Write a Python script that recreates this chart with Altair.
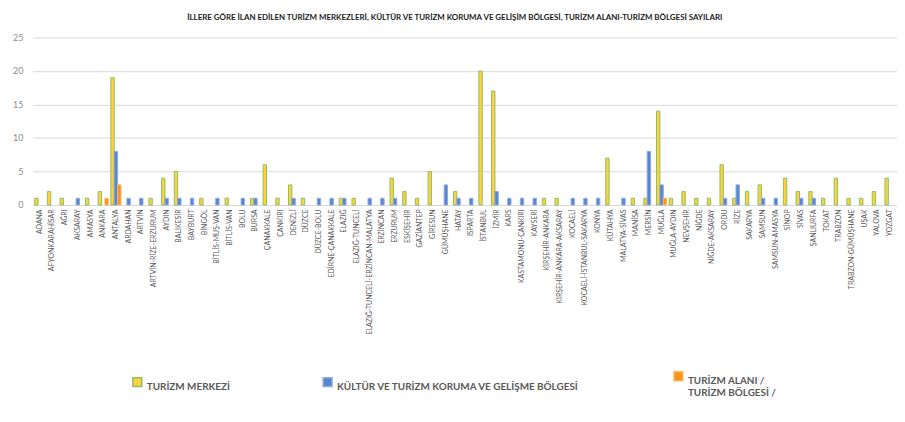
import altair as alt
import pandas as pd

categories = [
    "ADANA", "AFYONKARAHİSAR", "AĞRI", "AKSARAY", "AMASYA", "ANKARA", "ANTALYA",
    "ARDAHAN", "ARTVİN", "ARTVİN-RİZE-ERZURUM", "AYDIN", "BALIKESİR", "BAYBURT",
    "BİNGÖL", "BİTLİS-MUŞ-VAN", "BİTLİS-VAN", "BOLU", "BURSA", "ÇANAKKALE",
    "ÇANKIRI", "DENİZLİ", "DÜZCE", "DÜZCE-BOLU", "EDİRNE-ÇANAKKALE", "ELAZIĞ",
    "ELAZIĞ-TUNCELİ", "ELAZIĞ-TUNCELİ-ERZİNCAN-MALATYA", "ERZİNCAN", "ERZURUM",
    "ESKİŞEHİR", "GAZİANTEP", "GİRESUN", "GÜMÜŞHANE", "HATAY", "ISPARTA",
    "İSTANBUL", "İZMİR", "KARS", "KASTAMONU-ÇANKIRI", "KAYSERİ",
    "KIRŞEHİR-ANKARA", "KIRŞEHİR-ANKARA-AKSARAY", "KOCAELİ",
    "KOCAELİ-İSTANBUL-SAKARYA", "KONYA", "KÜTAHYA", "MALATYA-SİVAS", "MANİSA",
    "MERSİN", "MUĞLA", "MUĞLA-AYDIN", "NEVŞEHİR", "NİĞDE", "NİĞDE-AKSARAY",
    "ORDU", "RİZE", "SAKARYA", "SAMSUN", "SAMSUN-AMASYA", "SİNOP", "SİVAS",
    "ŞANLIURFA", "TOKAT", "TRABZON", "TRABZON-GÜMÜŞHANE", "UŞAK", "YALOVA",
    "YOZGAT",
]

turizm_merkezi = [
    1, 2, 1, 0, 1, 2, 19,
    0, 0, 1, 4, 5, 0,
    1, 0, 1, 0, 1, 6,
    1, 3, 1, 0, 0, 1,
    1, 0, 0, 4,
    2, 1, 5, 0, 2, 0,
    20, 17, 0, 0, 0,
    1, 1, 0,
    0, 0, 7, 0, 1,
    1, 14, 1, 2, 1, 1,
    6, 1, 2, 3, 0, 4, 2,
    2, 1, 4, 1, 1, 2,
    4,
]

kultur_turizm = [
    0, 0, 0, 1, 0, 0, 8,
    1, 1, 0, 1, 1, 1,
    0, 1, 0, 1, 1, 0,
    0, 1, 0, 1, 1, 1,
    0, 1, 1, 1,
    0, 0, 0, 3, 1, 1,
    0, 2, 1, 1, 1,
    0, 0, 1,
    1, 1, 0, 1, 0,
    8, 3, 0, 0, 0, 0,
    1, 3, 0, 1, 1, 0, 1,
    1, 0, 0, 0, 0, 0,
    0,
]

turizm_alani = [
    0, 0, 0, 0, 0, 1, 3,
    0, 0, 0, 0, 0, 0,
    0, 0, 0, 0, 0, 0,
    0, 0, 0, 0, 0, 0,
    0, 0, 0, 0,
    0, 0, 0, 0, 0, 0,
    0, 0, 0, 0, 0,
    0, 0, 0,
    0, 0, 0, 0, 0,
    0, 1, 0, 0, 0, 0,
    0, 0, 0, 0, 0, 0, 0,
    0, 0, 0, 0, 0, 0,
    0,
]

series_names = [
    "TURİZM MERKEZİ",
    "KÜLTÜR VE TURİZM KORUMA VE  GELİŞME BÖLGESİ",
    "TURİZM ALANI /|TURİZM BÖLGESİ /",
]
fill_colors = ["#FFD040", "#5585D3", "#F7941D"]
stroke_colors = ["#8CC063", "#8EAADB", "#FFB55A"]

rows = []
for series, values in zip(series_names, [turizm_merkezi, kultur_turizm, turizm_alani]):
    for cat, v in zip(categories, values):
        if v > 0:
            rows.append({"il": cat, "seri": series, "deger": v})
df = pd.DataFrame(rows)

title_text = ("İLLERE GÖRE İLAN EDİLEN TURİZM MERKEZLERİ, KÜLTÜR VE TURİZM KORUMA VE "
              "GELİŞİM BÖLGESİ, TURİZM ALANI-TURİZM BÖLGESİ SAYILARI")

font = "Lato, sans-serif"

chart = alt.Chart(df).mark_bar(strokeWidth=1).encode(
    x=alt.X("il:N", sort=categories, title=None,
            scale=alt.Scale(domain=categories, paddingInner=0.2, paddingOuter=0.15),
            axis=alt.Axis(labelAngle=270, labelFontSize=7, labelColor="#595959",
                          labelFont=font, ticks=False, domainColor="#D9D9D9",
                          labelPadding=4, labelOverlap=False, labelLimit=300)),
    xOffset=alt.XOffset("seri:N", scale=alt.Scale(domain=series_names, paddingInner=0)),
    y=alt.Y("deger:Q", title=None,
            scale=alt.Scale(domain=[0, 25]),
            axis=alt.Axis(values=[0, 5, 10, 15, 20, 25], labelFontSize=9,
                          labelColor="#8C8C8C", labelFont=font, ticks=False,
                          domain=False, gridColor="#D9D9D9", labelPadding=10)),
    fill=alt.Fill("seri:N", title=None,
                  scale=alt.Scale(domain=series_names, range=fill_colors),
                  legend=alt.Legend(orient="none", legendX=100, legendY=336,
                                    direction="horizontal", columnPadding=90,
                                    labelExpr="split(datum.label, '|')",
                                    labelFontSize=10, labelFontWeight="bold",
                                    labelColor="#595959", labelFont=font,
                                    symbolType="square", symbolSize=80,
                                    symbolStrokeWidth=1.5, labelLimit=400,
                                    labelBaseline="top", labelOffset=4)),
    stroke=alt.Stroke("seri:N", title=None,
                      scale=alt.Scale(domain=series_names, range=stroke_colors)),
).properties(
    width=872,
    height=169,
    title=alt.TitleParams(title_text, fontSize=8, fontWeight="bold", color="#1A1A1A",
                          font=font, anchor="middle", frame="bounds", offset=12),
).configure(
    padding={"left": 4, "top": 4, "right": 0, "bottom": 0},
).configure_view(stroke=None)

chart.save("out.html", embed_options={"renderer": "svg", "actions": False})
